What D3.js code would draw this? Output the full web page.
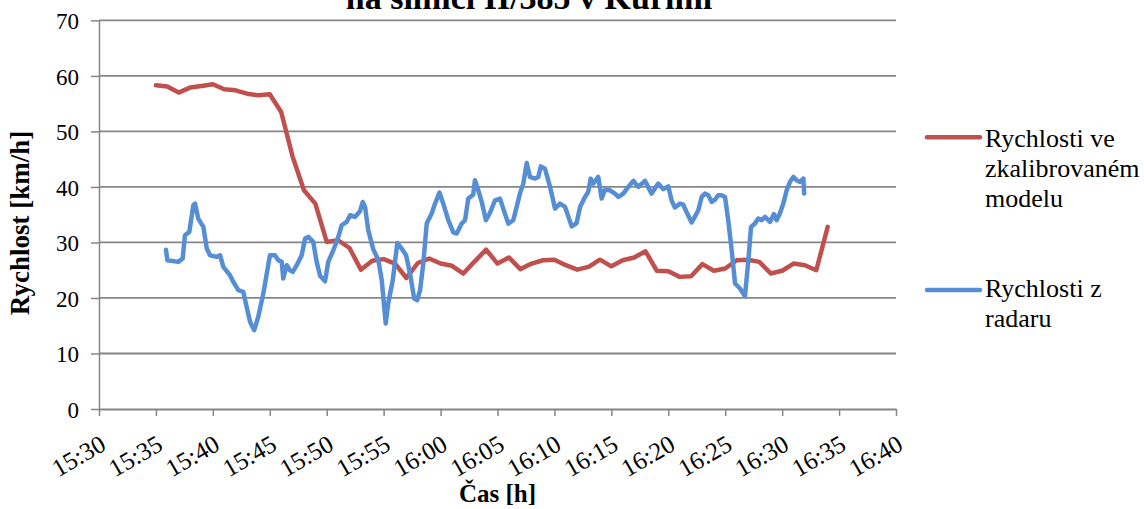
<!DOCTYPE html>
<html>
<head>
<meta charset="utf-8">
<script src="https://cdn.jsdelivr.net/npm/d3@7"></script>
<style>
  html, body { margin: 0; padding: 0; background: #fff; }
  svg { display: block; }
  svg text { font-family: "Liberation Serif", "Times New Roman", Times, "DejaVu Serif", serif !important; }
</style>
</head>
<body>
<svg id="chart" width="1144" height="509"></svg>
<script>
// Model speeds, one value per minute
const modelTimes = [
  "15:35","15:36","15:37","15:38","15:39","15:40","15:41","15:42","15:43","15:44",
  "15:45","15:46","15:47","15:48","15:49","15:50","15:51","15:52","15:53","15:54",
  "15:55","15:56","15:57","15:58","15:59","16:00","16:01","16:02","16:03","16:04",
  "16:05","16:06","16:07","16:08","16:09","16:10","16:11","16:12","16:13","16:14",
  "16:15","16:16","16:17","16:18","16:19","16:20","16:21","16:22","16:23","16:24",
  "16:25","16:26","16:27","16:28","16:29","16:30","16:31","16:32","16:33","16:34"
];
const modelSpeeds = [
  58.3,58.1,57.0,57.9,58.2,58.5,57.6,57.4,56.8,56.5,
  56.7,53.5,45.5,39.4,37.0,30.1,30.4,29.0,25.1,26.7,
  27.0,26.2,23.6,26.3,27.1,26.2,25.8,24.4,26.6,28.7,
  26.2,27.3,25.2,26.2,26.8,26.9,25.9,25.1,25.6,26.9,
  25.7,26.8,27.3,28.4,24.9,24.8,23.8,23.9,26.1,24.9,
  25.3,26.8,26.9,26.5,24.4,24.9,26.2,25.9,25.0,32.8
];

// Radar measurements
const radarTimes = [
  "15:35:53","15:36:00","15:36:58","15:37:21","15:37:33","15:37:56","15:38:17","15:38:26","15:38:43","15:39:10",
  "15:39:28","15:39:45","15:40:20","15:40:38","15:40:55","15:41:30","15:41:48","15:42:14","15:42:40","15:42:58",
  "15:43:16","15:43:38","15:43:59","15:44:26","15:44:44","15:45:01","15:45:27","15:45:45","15:46:03","15:46:11",
  "15:46:29","15:46:46","15:47:01","15:47:22","15:47:48","15:48:06","15:48:23","15:48:49","15:49:07","15:49:25",
  "15:49:51","15:50:08","15:50:35","15:51:01","15:51:19","15:51:45","15:52:03","15:52:29","15:52:55","15:53:10",
  "15:53:22","15:53:39","15:54:05","15:54:32","15:54:50","15:55:11","15:55:24","15:55:48","15:56:12","15:56:35",
  "15:56:58","15:57:19","15:57:41","15:57:57","15:58:12","15:58:29","15:58:47","15:59:13","15:59:31","15:59:54",
  "16:00:14","16:00:41","16:01:07","16:01:25","16:01:51","16:02:09","16:02:26","16:02:52","16:03:01","16:03:19",
  "16:03:37","16:03:59","16:04:20","16:04:47","16:05:13","16:05:39","16:05:57","16:06:23","16:06:41","16:06:58",
  "16:07:16","16:07:34","16:07:51","16:08:18","16:08:35","16:08:48","16:09:10","16:09:37","16:10:03","16:10:29",
  "16:10:56","16:11:31","16:11:57","16:12:15","16:12:41","16:12:58","16:13:11","16:13:25","16:13:51","16:14:09",
  "16:14:26","16:14:53","16:15:19","16:15:37","16:16:03","16:16:29","16:16:56","16:17:22","16:17:57","16:18:32",
  "16:19:07","16:19:34","16:20:00","16:20:18","16:20:35","16:21:02","16:21:19","16:21:40","16:22:03","16:22:21",
  "16:22:38","16:22:56","16:23:13","16:23:31","16:23:49","16:24:06","16:24:23","16:24:41","16:24:59","16:25:16",
  "16:25:34","16:25:52","16:26:18","16:26:44","16:27:02","16:27:16","16:27:37","16:27:54","16:28:12","16:28:30",
  "16:28:56","16:29:17","16:29:31","16:29:49","16:30:06","16:30:24","16:30:41","16:30:59","16:31:17","16:31:34",
  "16:31:52","16:31:56"
];
const radarSpeeds = [
  28.7,26.8,26.5,27.1,31.3,31.9,36.7,37.0,34.3,32.8,
  28.9,27.7,27.4,27.7,25.6,24.1,22.9,21.4,21.1,18.4,
  15.7,14.2,16.6,20.8,24.4,27.7,27.7,26.8,26.5,23.5,
  25.9,25.0,24.7,25.9,27.7,30.7,31.0,30.1,26.5,24.0,
  23.0,26.5,28.6,31.0,33.1,33.7,34.9,34.6,35.6,37.3,
  36.4,32.2,28.8,26.8,23.2,15.4,19.0,23.2,29.9,28.9,
  27.7,24.4,19.9,19.6,21.4,26.2,33.4,35.2,37.0,39.0,
  37.0,34.0,31.8,31.6,33.4,34.0,37.9,38.6,41.2,39.4,
  37.3,34.0,35.3,37.6,37.9,35.2,33.4,34.0,36.4,38.8,
  40.6,44.3,41.8,41.5,41.8,43.7,43.3,40.0,36.1,37.0,
  36.4,32.9,33.5,36.4,38.2,39.1,41.5,40.6,41.8,37.9,
  39.5,39.4,38.8,38.2,38.8,40.0,41.1,40.0,41.1,38.8,
  40.6,39.6,40.1,37.5,36.3,37.0,36.8,35.2,33.6,34.7,
  35.8,38.2,38.8,38.5,37.3,37.7,38.5,38.5,38.2,34.0,
  28.6,22.6,21.7,20.3,26.8,32.8,33.4,34.3,34.0,34.6,
  33.7,35.1,34.0,35.3,37.0,39.4,40.9,41.8,41.2,40.9,
  41.5,38.8
];

const xDomain = ["15:30", "16:40"];
const yTicks = [0, 10, 20, 30, 40, 50, 60, 70];
const seriesNames = [["Rychlosti ve", "zkalibrovaném", "modelu"], ["Rychlosti z", "radaru"]];
const seriesColors = ["#C0504D", "#558ED5"];

const titleText = "na silnici II/385 v Kuřimi";
const xTitle = "Čas [h]";
const yTitle = "Rychlost [km/h]";

const FONT = "'Liberation Serif', 'Times New Roman', Times, 'DejaVu Serif', serif";

const parseHM = d3.timeParse("%H:%M");
const parseHMS = d3.timeParse("%H:%M:%S");

const svg = d3.select("#chart");
const plot = { left: 99, right: 896, top: 20.4, bottom: 409 };
const gridColor = "#868686";

const x = d3.scaleTime()
  .domain(xDomain.map(parseHM))
  .range([plot.left, plot.right]);
const y = d3.scaleLinear()
  .domain([0, 70])
  .range([plot.bottom, plot.top]);

// Horizontal gridlines
svg.append("g")
  .selectAll("line")
  .data(yTicks.filter(d => d > 0))
  .join("line")
  .attr("x1", plot.left).attr("x2", plot.right)
  .attr("y1", d => y(d)).attr("y2", d => y(d))
  .attr("stroke", gridColor).attr("stroke-width", 1.8);

// Y axis
const yAxis = svg.append("g")
  .attr("transform", `translate(${plot.left},0)`)
  .call(d3.axisLeft(y).tickValues(yTicks).tickSize(8).tickSizeOuter(0).tickPadding(12));
yAxis.attr("font-family", FONT);
yAxis.select(".domain").attr("stroke", gridColor).attr("stroke-width", 1.5);
yAxis.selectAll(".tick line").attr("stroke", gridColor).attr("stroke-width", 1.5);
yAxis.selectAll(".tick text")
  .style("font-family", FONT)
  .attr("font-size", 23).attr("fill", "#000").attr("dy", "0.36em");

// X axis
const xAxis = svg.append("g")
  .attr("transform", `translate(0,${plot.bottom})`)
  .call(d3.axisBottom(x)
    .ticks(d3.timeMinute.every(5))
    .tickFormat(d3.timeFormat("%H:%M"))
    .tickSize(7).tickSizeOuter(0));
xAxis.attr("font-family", FONT);
xAxis.select(".domain").attr("stroke", gridColor).attr("stroke-width", 1.8);
xAxis.selectAll(".tick line").attr("stroke", gridColor).attr("stroke-width", 1.5);
xAxis.selectAll(".tick text")
  .style("font-family", FONT)
  .attr("font-size", 25).attr("fill", "#000")
  .attr("text-anchor", "end")
  .attr("dy", 0).attr("y", 0)
  .attr("transform", "translate(8,40) rotate(-30)");

// Series lines
const line = d3.line()
  .x(d => x(d.t))
  .y(d => y(d.v))
  .curve(d3.curveLinear);

const modelData = modelTimes.map((t, i) => ({ t: parseHM(t), v: modelSpeeds[i] }));
const radarData = radarTimes.map((t, i) => ({ t: parseHMS(t), v: radarSpeeds[i] }));

[modelData, radarData].forEach((data, i) => {
  svg.append("path")
    .datum(data)
    .attr("d", line)
    .attr("fill", "none")
    .attr("stroke", seriesColors[i])
    .attr("stroke-width", 4.5)
    .attr("stroke-linejoin", "round")
    .attr("stroke-linecap", "round");
});

// Legend: swatch row and text baselines per entry
const legendSwatchY = [137.3, 290];
const legendTextY = [147, 297];
seriesNames.forEach((lines, i) => {
  const g = svg.append("g");
  g.append("line")
    .attr("x1", 927).attr("x2", 980)
    .attr("y1", legendSwatchY[i]).attr("y2", legendSwatchY[i])
    .attr("stroke", seriesColors[i]).attr("stroke-width", 4.5)
    .attr("stroke-linecap", "round");
  g.selectAll("text")
    .data(lines)
    .join("text")
    .attr("x", 985)
    .attr("y", (d, j) => legendTextY[i] + j * 30)
    .style("font-family", FONT)
    .attr("font-size", 26)
    .attr("fill", "#000")
    .text(d => d);
});

// Titles
svg.append("text")
  .attr("x", 529).attr("y", 9)
  .attr("text-anchor", "middle")
  .style("font-family", FONT)
  .attr("font-size", 34).attr("font-weight", "bold")
  .text(titleText);

svg.append("text")
  .attr("x", (plot.left + plot.right) / 2).attr("y", 502)
  .attr("text-anchor", "middle")
  .style("font-family", FONT)
  .attr("font-size", 25).attr("font-weight", "bold")
  .text(xTitle);

svg.append("text")
  .attr("transform", "translate(29,223) rotate(-90)")
  .attr("text-anchor", "middle")
  .style("font-family", FONT)
  .attr("font-size", 27).attr("font-weight", "bold")
  .text(yTitle);
</script>
</body>
</html>
